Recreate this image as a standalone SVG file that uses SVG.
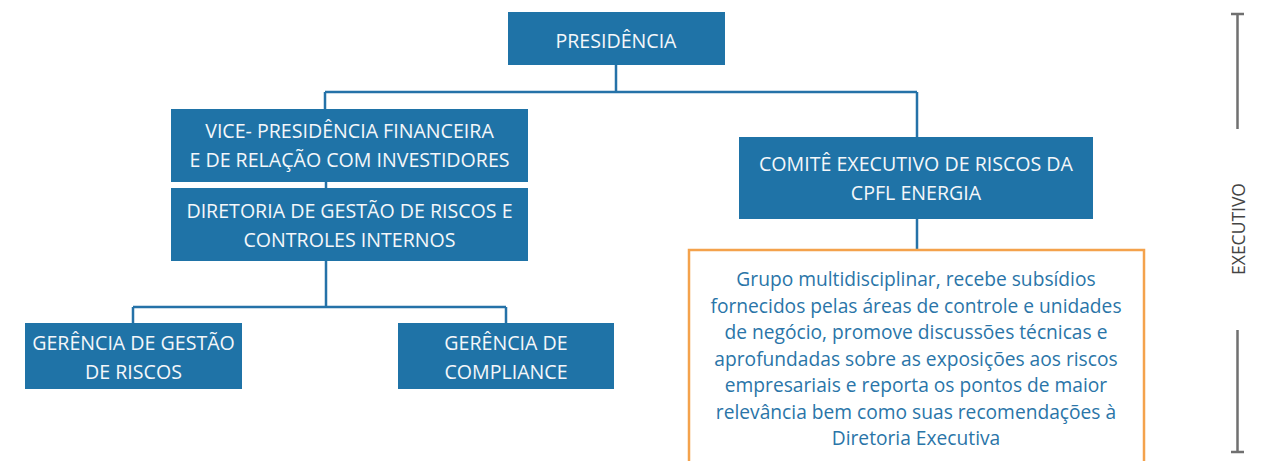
<svg xmlns="http://www.w3.org/2000/svg" width="1264" height="461" viewBox="0 0 1264 461">
<style>
.box{fill:#1f73a7}
.bt{fill:#f4f7fa;font-family:"Open Sans","Noto Sans",sans-serif;font-size:19.6px;text-anchor:middle}
.conn{stroke:#2572a8;stroke-width:2.5;fill:none}
.note{fill:none;stroke:#f4a24c;stroke-width:2.5}
.nt{fill:#2a75a8;font-family:"Open Sans","Noto Sans",sans-serif;font-size:19.2px;text-anchor:middle}
.side{stroke:#707070;stroke-width:2.5;fill:none}
.st{fill:#444;font-family:"Open Sans","Noto Sans",sans-serif;font-size:17.5px;text-anchor:middle}
</style>
<rect width="1264" height="461" fill="#fff"/>
<g id="connectors">
<path class="conn" d="M616,65 V92 M325,92 H917 M325,92 V109 M917,92 V137 M326,182 V188 M326,261 V307 M133,307 H506 M133,307 V323 M506,307 V323 M917,218 V250"/>
</g>
<g id="presidencia">
<rect class="box" x="508" y="12" width="217" height="53"/>
<text class="bt" x="616" y="48">PRESIDÊNCIA</text>
</g>
<g id="vice-presidencia">
<rect class="box" x="171" y="109" width="357" height="73"/>
<text class="bt" x="349.5" y="138">VICE- PRESIDÊNCIA FINANCEIRA</text>
<text class="bt" x="349.5" y="167">E DE RELAÇÃO COM INVESTIDORES</text>
</g>
<g id="diretoria">
<rect class="box" x="171" y="188" width="357" height="73"/>
<text class="bt" x="349.5" y="218">DIRETORIA DE GESTÃO DE RISCOS E</text>
<text class="bt" x="349.5" y="247">CONTROLES INTERNOS</text>
</g>
<g id="comite">
<rect class="box" x="739" y="137" width="354" height="82"/>
<text class="bt" x="916" y="171">COMITÊ EXECUTIVO DE RISCOS DA</text>
<text class="bt" x="916" y="200">CPFL ENERGIA</text>
</g>
<g id="gerencia-riscos">
<rect class="box" x="25" y="323" width="217" height="66"/>
<text class="bt" x="133.5" y="350">GERÊNCIA DE GESTÃO</text>
<text class="bt" x="133.5" y="379">DE RISCOS</text>
</g>
<g id="gerencia-compliance">
<rect class="box" x="398" y="323" width="216" height="66"/>
<text class="bt" x="506" y="350">GERÊNCIA DE</text>
<text class="bt" x="506" y="379">COMPLIANCE</text>
</g>
<g id="nota">
<rect class="note" x="689" y="250" width="455" height="230"/>
<text class="nt" x="916" y="286">Grupo multidisciplinar, recebe subsídios</text>
<text class="nt" x="916" y="312.5">fornecidos pelas áreas de controle e unidades</text>
<text class="nt" x="916" y="339">de negócio, promove discussões técnicas e</text>
<text class="nt" x="916" y="365.5">aprofundadas sobre as exposições aos riscos</text>
<text class="nt" x="916" y="392">empresariais e reporta os pontos de maior</text>
<text class="nt" x="916" y="418.5">relevância bem como suas recomendações à</text>
<text class="nt" x="916" y="445">Diretoria Executiva</text>
</g>
<g id="executivo">
<path class="side" d="M1231,14 H1244 M1237.5,14 V129 M1237.5,330 V452 M1231,452 H1244"/>
<text class="st" transform="translate(1245,229) rotate(-90)">EXECUTIVO</text>
</g>
</svg>
